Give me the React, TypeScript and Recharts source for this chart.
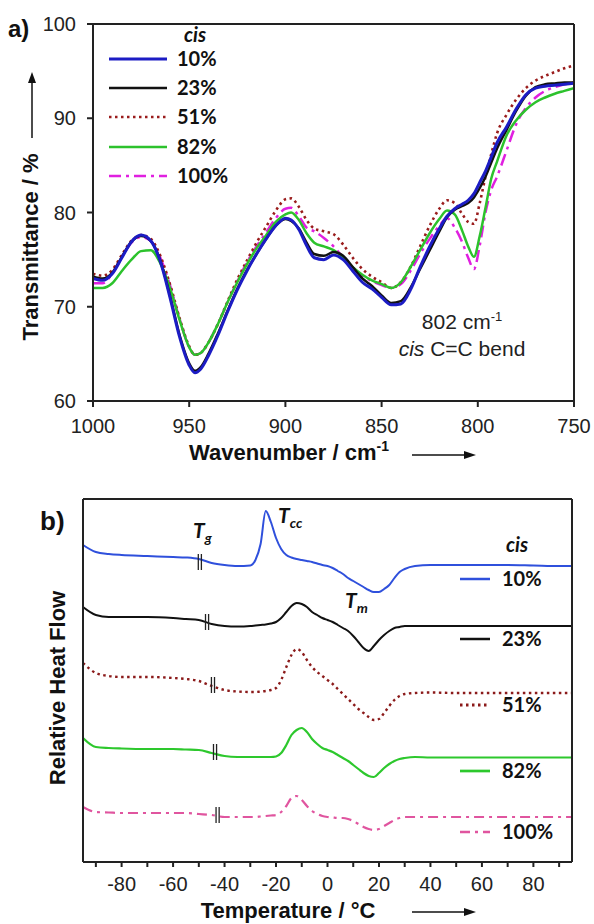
import React from 'react';
import { LineChart, Line, XAxis, YAxis, ReferenceLine } from 'recharts';

// ---- a) FTIR, transmittance (%) vs wavenumber (cm-1)
const wavenumbers = [
  1000, 995, 990, 985, 980, 975, 970, 965, 960, 955, 950, 947, 944, 940, 935, 930, 925, 920, 915, 910,
  905, 900, 897, 893, 889, 885, 880, 875, 870, 865, 860, 855, 850, 845, 840, 835, 830, 825, 820, 816,
  812, 808, 805, 802, 799, 796, 793, 790, 785, 780, 775, 770, 765, 760, 755, 750,
];
const ftir10 = [
  73.0, 72.8, 73.5, 75.2, 76.9, 77.6, 77.0, 74.8, 71.0, 66.8, 63.8, 63.0, 63.4, 64.8, 67.0, 69.5, 71.8, 73.8, 75.6, 77.2,
  78.6, 79.4, 79.2, 78.2, 76.5, 75.2, 75.0, 75.5, 75.0, 73.8, 72.6, 71.9, 71.0, 70.2, 70.3, 71.8, 74.2, 76.4, 78.3, 79.6,
  80.4, 80.9, 81.3, 82.0, 83.2, 84.4, 85.9, 87.4, 89.1, 91.0, 92.5, 93.2, 93.4, 93.5, 93.6, 93.7,
];
const ftir23 = [
  73.2, 73.0, 73.6, 75.3, 76.9, 77.5, 77.0, 74.9, 71.2, 67.0, 64.0, 63.2, 63.6, 65.0, 67.2, 69.6, 71.9, 73.9, 75.6, 77.2,
  78.6, 79.3, 79.1, 78.3, 76.8, 75.6, 75.4, 75.8, 75.4, 74.2, 73.0, 72.2, 71.2, 70.4, 70.6, 72.0, 74.0, 76.0, 78.0, 79.5,
  80.3, 80.7, 81.0, 81.6, 82.6, 83.8, 85.3, 86.8, 88.8, 90.8, 92.4, 93.3, 93.6, 93.7, 93.8, 93.8,
];
const ftir51 = [
  73.5, 73.3, 73.9, 75.5, 77.0, 77.6, 77.2, 75.4, 72.4, 68.8, 65.8, 64.9, 65.1, 66.2, 68.2, 70.6, 72.9, 74.9, 76.8, 78.5,
  80.2, 81.4, 81.5, 80.6, 79.2, 78.3, 78.0, 77.7, 76.6, 75.2, 74.0, 73.2, 72.6, 72.0, 72.6, 74.2, 76.4, 78.6, 80.4, 81.3,
  81.0, 79.8, 79.0, 78.8, 81.0, 83.8, 86.2, 88.4, 90.4, 92.0, 93.2, 94.0, 94.5, 94.9, 95.3, 95.6,
];
const ftir82 = [
  72.0, 72.0, 72.5, 73.8, 75.0, 75.9, 76.0, 74.6, 72.0, 68.6, 65.7, 64.9, 65.1, 66.2, 68.2, 70.5, 72.6, 74.5, 76.2, 77.6,
  79.0, 79.8, 80.0, 79.2, 77.8, 76.8, 76.4, 76.0, 75.2, 74.2, 73.4, 72.8, 72.4, 72.0, 72.6, 74.2, 76.0, 77.8, 79.3, 80.2,
  79.8, 78.0, 76.4, 75.3, 77.5, 80.5, 83.6, 85.4, 88.2, 89.8, 90.9, 91.7, 92.2, 92.6, 92.9, 93.2,
];
const ftir100 = [
  72.5, 72.5, 73.5, 75.3, 76.8, 77.4, 77.0, 75.2, 72.3, 68.7, 65.7, 64.9, 65.1, 66.2, 68.2, 70.5, 72.7, 74.7, 76.4, 77.9,
  79.4, 80.4, 80.5, 79.6, 78.4, 78.0, 77.3, 76.4, 75.2, 74.0, 73.3, 72.7, 72.3, 72.0, 72.4, 73.8, 75.6, 77.2, 78.6, 79.4,
  78.4, 76.8, 75.2, 74.0, 76.5, 80.0, 82.4, 83.8, 86.6, 89.4, 91.1, 92.2, 92.9, 93.3, 93.6, 93.8,
];
const wnTicks = [1000, 950, 900, 850, 800, 750];
const transTicks = [60, 70, 80, 90, 100];

// ---- b) DSC, relative heat flow (arbitrary units, curves stacked) vs temperature (°C)
const temps = [
  -95, -90, -85, -80, -70, -60, -55, -50, -45, -40, -35, -30, -28, -26, -24, -22, -20, -18, -16, -14,
  -12, -10, -8, -6, -4, -2, 0, 2, 4, 6, 8, 10, 12, 14, 16, 18, 20, 22, 24, 26,
  28, 30, 34, 40, 50, 60, 70, 80, 90, 95,
];
const dsc10 = [
  317, 310, 308, 307, 306, 305, 304.5, 303, 299, 297, 296, 296.5, 302, 318, 351, 340, 324, 313, 307, 304.5,
  303, 302, 301, 300, 298.5, 297, 296, 294, 291, 288, 284, 281, 278, 275, 272, 270, 270, 273, 277, 284,
  290, 293, 296, 297, 297, 297, 297, 296.5, 296, 296,
];
const dsc23 = [
  255, 247, 245, 245, 245, 244, 243, 242, 238, 236, 235.5, 236, 236.5, 237, 237.5, 238.5, 240, 244, 250, 256,
  259, 258, 255, 250, 247, 244, 242, 240, 237, 234, 231, 226, 220, 214, 211, 216, 222, 227, 231, 234,
  235, 236, 236, 236, 236, 236, 236, 236, 236, 236,
];
const dsc51 = [
  199, 189, 186, 185, 185, 184, 183, 181, 176, 172, 170.5, 170, 170, 170.5, 171, 172, 174, 182, 195, 207,
  213, 210, 202, 195, 190, 186, 182, 178, 173, 168, 163, 158, 153, 149, 145, 142, 143, 149, 156, 162,
  166, 168, 169, 169.5, 169, 169, 169, 169, 169, 169,
];
const dsc82 = [
  124, 115, 114, 113.5, 113, 113, 112.5, 112, 109, 106, 105, 105, 105, 105, 105, 105, 105.5, 109, 117, 127,
  132, 134, 130, 123, 118, 114, 112, 110, 107, 104, 101, 97, 93, 89, 86, 85, 89, 94, 98, 101,
  103, 104, 105, 104.5, 104.5, 104.5, 104.5, 104.5, 104.5, 104.5,
];
const dsc100 = [
  55, 50, 49.5, 49, 49, 49, 49, 48, 47, 45, 45, 45, 45, 45.5, 46, 46.5, 47, 50, 56, 64,
  66, 62, 56, 51, 48, 46, 45, 44.5, 44, 44, 43, 41, 38, 35, 33, 32, 33, 36, 39, 42,
  44, 45, 45, 45, 45, 45, 45, 45, 45, 45,
];
const tempTicks = [-90, -80, -70, -60, -50, -40, -30, -20, -10, 0, 10, 20, 30, 40, 50, 60, 70, 80, 90];
const tgTemps = [-49.6, -46.8, -44.5, -43.7, -42.7];
const tgLevels = [300, 240, 177, 110, 47];

const cisLabels = ['10%', '23%', '51%', '82%', '100%'];
const keys = ['c10', 'c23', 'c51', 'c82', 'c100'];

const ftirData = wavenumbers.map((wn, i) => ({
  wn, c10: ftir10[i], c23: ftir23[i], c51: ftir51[i], c82: ftir82[i], c100: ftir100[i],
}));
const dscData = temps.map((t, i) => ({
  t, c10: dsc10[i], c23: dsc23[i], c51: dsc51[i], c82: dsc82[i], c100: dsc100[i],
}));

const styleA = [
  { color: '#1c1cc4', width: 3, dash: undefined },
  { color: '#111111', width: 2.5, dash: undefined },
  { color: '#9a1c1c', width: 2.6, dash: '2.5 3.5' },
  { color: '#2cc22c', width: 2.5, dash: undefined },
  { color: '#e020e0', width: 2.5, dash: '12 5 3 5' },
];
const styleB = [
  { color: '#2f50dc', width: 2, dash: undefined },
  { color: '#111111', width: 2, dash: undefined },
  { color: '#8b1a1a', width: 2.4, dash: '2.5 3.5' },
  { color: '#2dc82d', width: 2.2, dash: undefined },
  { color: '#e0559f', width: 2.2, dash: '10 5 3 5' },
];
const drawOrderA = [4, 2, 3, 1, 0];
const drawOrderB = [0, 1, 2, 3, 4];

const FONT = '"Liberation Sans", Arial, sans-serif';
const LEG = 'Lato, "Liberation Sans", sans-serif';
const tickStyle = { fontFamily: FONT, fontSize: 20, fill: '#222' };
const axisLine = { stroke: '#222', strokeWidth: 2 };

const legendA = [59, 88, 117, 147, 176];
const legendB = [579, 639, 705, 771, 832];

function Overlay() {
  return (
    <svg width={594} height={924} style={{ position: 'absolute', left: 0, top: 0, pointerEvents: 'none' }}>
      {/* panel letters */}
      <text x={8} y={37} fontFamily={FONT} fontWeight="bold" fontSize={24} fill="#111">a)</text>
      <text x={40} y={530} fontFamily={FONT} fontWeight="bold" fontSize={26} fill="#111">b)</text>

      {/* a) axis titles */}
      <text transform="translate(38,247) rotate(-90)" textAnchor="middle" fontFamily={FONT}
        fontWeight="bold" fontSize={22} fill="#111">Transmittance / %</text>
      <line x1={32} y1={138} x2={32} y2={80} stroke="#111" strokeWidth={1.5} />
      <polygon points="32,72 28,83 36,83" fill="#111" />
      <text x={289} y={460} textAnchor="middle" fontFamily={FONT} fontWeight="bold" fontSize={22} fill="#111">
        Wavenumber / cm<tspan dy={-9} fontSize={14}>-1</tspan>
      </text>
      <line x1={412} y1={455} x2={466} y2={455} stroke="#111" strokeWidth={1.5} />
      <polygon points="476,455 464,451 464,459" fill="#111" />

      {/* a) legend */}
      <text x={195} y={42} textAnchor="middle" fontFamily={LEG} fontStyle="italic" fontWeight="bold" fontSize={20} fill="#111">cis</text>
      {cisLabels.map((lab, i) => (
        <g key={lab}>
          <line x1={109} x2={167} y1={legendA[i]} y2={legendA[i]} stroke={styleA[i].color}
            strokeWidth={styleA[i].width} strokeDasharray={styleA[i].dash} />
          <text x={177} y={legendA[i] + 7} fontFamily={LEG} fontWeight="bold" fontSize={20} fill="#111">{lab}</text>
        </g>
      ))}

      {/* a) annotation */}
      <text x={462} y={329} textAnchor="middle" fontFamily={FONT} fontSize={21} fill="#222">
        802 cm<tspan dy={-8} fontSize={13}>-1</tspan>
      </text>
      <text x={462} y={356} textAnchor="middle" fontFamily={FONT} fontSize={21} fill="#222">
        <tspan fontStyle="italic">cis</tspan> C=C bend
      </text>

      {/* b) axis titles */}
      <text transform="translate(65,688) rotate(-90)" textAnchor="middle" fontFamily={FONT}
        fontWeight="bold" fontSize={22} fill="#111">Relative Heat Flow</text>
      <text x={288} y={918} textAnchor="middle" fontFamily={FONT} fontWeight="bold" fontSize={22} fill="#111">
        Temperature / °C
      </text>
      <line x1={412} y1={912} x2={466} y2={912} stroke="#111" strokeWidth={1.5} />
      <polygon points="476,912 464,908 464,916" fill="#111" />

      {/* b) transition labels */}
      <text x={193} y={538} fontFamily={LEG} fontStyle="italic" fontWeight="bold" fontSize={21} fill="#111">
        T<tspan dy={5} fontSize={14}>g</tspan>
      </text>
      <text x={278} y={523} fontFamily={LEG} fontStyle="italic" fontWeight="bold" fontSize={21} fill="#111">
        T<tspan dy={5} fontSize={14}>cc</tspan>
      </text>
      <text x={345} y={608} fontFamily={LEG} fontStyle="italic" fontWeight="bold" fontSize={21} fill="#111">
        T<tspan dy={5} fontSize={14}>m</tspan>
      </text>

      {/* b) legend */}
      <text x={517} y={552} textAnchor="middle" fontFamily={LEG} fontStyle="italic" fontWeight="bold" fontSize={20} fill="#111">cis</text>
      {cisLabels.map((lab, i) => (
        <g key={lab}>
          <line x1={460} x2={490} y1={legendB[i]} y2={legendB[i]} stroke={styleB[i].color}
            strokeWidth={styleB[i].width + 0.5} strokeDasharray={styleB[i].dash} />
          <text x={502} y={legendB[i] + 7} fontFamily={LEG} fontWeight="bold" fontSize={20} fill="#111">{lab}</text>
        </g>
      ))}
    </svg>
  );
}

export default function App() {
  return (
    <div style={{ position: 'absolute', left: 0, top: 0, width: 594, height: 924, background: '#fff' }}>
      <div style={{ position: 'absolute', left: 0, top: 0 }}>
        <LineChart width={594} height={470} data={ftirData} margin={{ top: 23, right: 10, left: 33, bottom: 39 }}>
          <XAxis dataKey="wn" type="number" domain={[750, 1000]} reversed ticks={wnTicks}
            tick={tickStyle} tickSize={6} tickMargin={12} height={30} axisLine={axisLine} tickLine={axisLine} />
          <XAxis xAxisId="top" orientation="top" type="number" domain={[750, 1000]} reversed
            tick={false} tickLine={false} height={1} axisLine={axisLine} />
          <YAxis type="number" domain={[60, 100]} ticks={transTicks} tick={tickStyle} tickSize={6}
            tickMargin={11} width={60} axisLine={axisLine} tickLine={axisLine} />
          <YAxis yAxisId="right" orientation="right" type="number" domain={[60, 100]}
            tick={false} tickLine={false} width={10} axisLine={axisLine} />
          {drawOrderA.map((i) => (
            <Line key={keys[i]} dataKey={keys[i]} type="monotone" stroke={styleA[i].color}
              strokeWidth={styleA[i].width} strokeDasharray={styleA[i].dash} dot={false}
              isAnimationActive={false} />
          ))}
        </LineChart>
      </div>
      <div style={{ position: 'absolute', left: 0, top: 470 }}>
        <LineChart width={594} height={454} data={dscData} margin={{ top: 28, right: 12, left: 73, bottom: 32 }}>
          <XAxis dataKey="t" type="number" domain={[-95, 95]} ticks={tempTicks}
            tickFormatter={(v) => (v % 20 === 0 ? String(v) : '')}
            tick={tickStyle} tickSize={5} tickMargin={10} height={30} axisLine={axisLine} tickLine={axisLine} />
          <XAxis xAxisId="top" orientation="top" type="number" domain={[-95, 95]}
            tick={false} tickLine={false} height={1} axisLine={axisLine} />
          <YAxis type="number" domain={[0, 363]} tick={false} tickLine={false} width={10} axisLine={axisLine} />
          <YAxis yAxisId="right" orientation="right" type="number" domain={[0, 363]}
            tick={false} tickLine={false} width={10} axisLine={axisLine} />
          {drawOrderB.map((i) => (
            <Line key={keys[i]} dataKey={keys[i]} type="monotone" stroke={styleB[i].color}
              strokeWidth={styleB[i].width} strokeDasharray={styleB[i].dash} dot={false}
              isAnimationActive={false} />
          ))}
          {tgTemps.map((tg, i) => [-0.6, 0.6].map((d) => (
            <ReferenceLine key={`tg-${i}-${d}`} ifOverflow="visible" stroke="#222" strokeWidth={1.3}
              segment={[{ x: tg + d, y: tgLevels[i] - 8 }, { x: tg + d, y: tgLevels[i] + 8 }]} />
          )))}
        </LineChart>
      </div>
      <Overlay />
    </div>
  );
}
